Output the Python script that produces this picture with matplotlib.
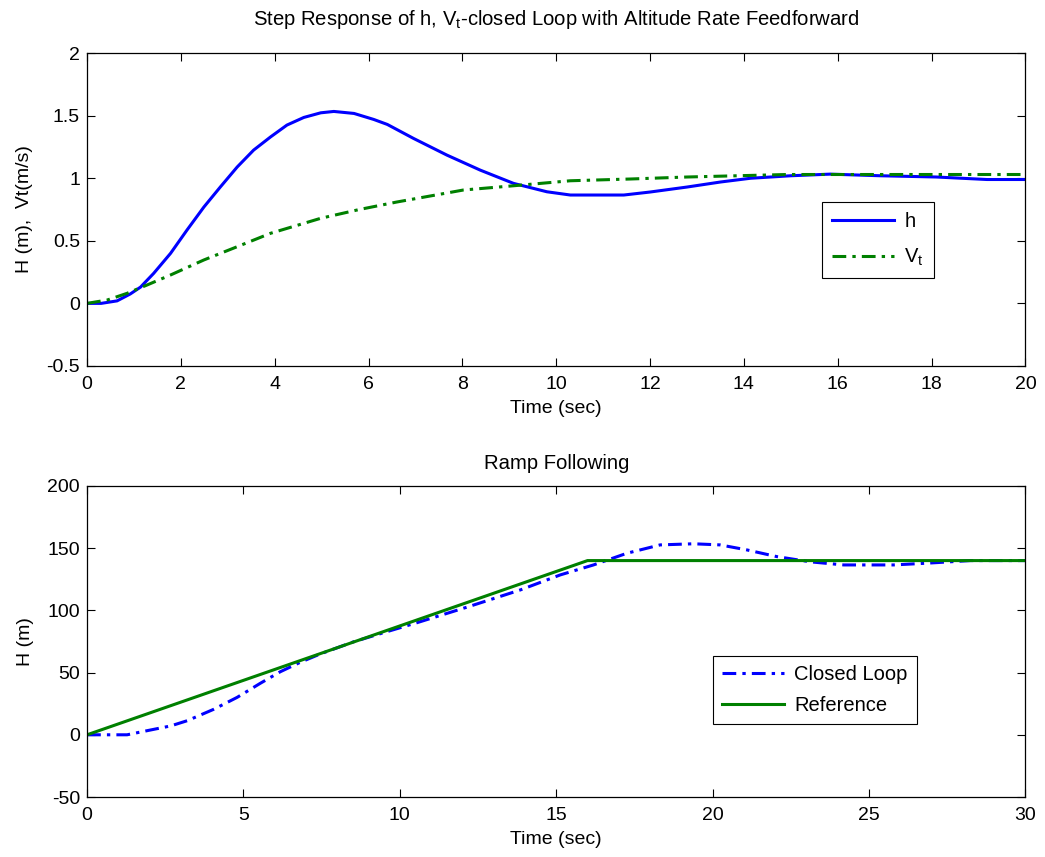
import matplotlib
matplotlib.use("Agg")
import matplotlib.pyplot as plt

# step response samples (time in sec)
t_h = [0, 0.3, 0.64, 0.92, 1.14, 1.42, 1.78, 2.13, 2.49, 2.84, 3.2, 3.55, 3.91, 4.26,
       4.62, 4.98, 5.26, 5.69, 6.11, 6.4, 6.96, 7.67, 8.38, 9.09, 9.8, 10.3, 11.44,
       12.0, 12.79, 13.5, 14.14, 15.0, 15.84, 16.9, 18.1, 19.18, 20]
h = [0, 0, 0.02, 0.075, 0.13, 0.24, 0.40, 0.586, 0.77, 0.93, 1.09, 1.225, 1.33, 1.425,
     1.486, 1.523, 1.534, 1.518, 1.47, 1.43, 1.318, 1.185, 1.065, 0.959, 0.892, 0.866, 0.866,
     0.89, 0.93, 0.97, 1.0, 1.02, 1.033, 1.02, 1.01, 0.99, 0.99]

t_vt = [0, 0.43, 0.85, 1.28, 1.78, 2.49, 3.2, 3.91, 4.98, 5.8, 6.6, 8.02, 9.09, 10.3,
        11.58, 12.79, 14.92, 20]
vt = [0, 0.027, 0.08, 0.147, 0.227, 0.347, 0.453, 0.56, 0.68, 0.75, 0.81, 0.906, 0.94, 0.98,
      0.994, 1.01, 1.03, 1.03]

# ramp following
t_cl = [0, 1.28, 1.92, 2.67, 3.2, 4.05, 4.8, 5.54, 6.18, 6.82, 7.46, 8.53, 9.59, 10.55,
        12.2, 13.85, 15.13, 16.19, 17.26, 18.32, 19.39, 20.24, 21.09, 22.05, 23.12, 24.19,
        25.78, 26.85, 28.24, 30]
h_cl = [0, 0, 3.3, 7.1, 11.3, 20.5, 30.1, 41.4, 50.7, 58.3, 65, 74.8, 82.9, 90.1,
        103, 116.4, 128.5, 136.5, 145.9, 152.6, 153.5, 152.6, 148.6, 143.2, 139, 136.5,
        136.5, 137.9, 140, 140]

t_ref = [0, 16, 30]
h_ref = [0, 140, 140]

plt.rcParams['font.family'] = ['Liberation Sans', 'DejaVu Sans']
plt.rcParams['mathtext.fontset'] = 'custom'
plt.rcParams['mathtext.rm'] = 'Liberation Sans'
plt.rcParams['font.size'] = 14
plt.rcParams['axes.unicode_minus'] = False

blue = '#0000ff'
green = '#008000'
dashdot = (0, (4.5, 2, 1.1, 2))

fig = plt.figure(figsize=(10.45, 8.57), dpi=100)
ax1 = fig.add_axes([0.0833, 0.573, 0.898, 0.365])
ax2 = fig.add_axes([0.0833, 0.070, 0.898, 0.363])

ax1.plot(t_h, h, color=blue, lw=2.2, label='h')
ax1.plot(t_vt, vt, color=green, lw=2.2, ls=dashdot, label=r'$\mathregular{V_t}$')
ax1.set_xlim(0, 20)
ax1.set_ylim(-0.5, 2)
ax1.set_xticks(range(0, 21, 2))
ax1.set_yticks([-0.5, 0, 0.5, 1, 1.5, 2])
ax1.set_yticklabels(['-0.5', '0', '0.5', '1', '1.5', '2'])
ax1.set_xlabel('Time (sec)', labelpad=5)
ax1.set_ylabel('H (m),  Vt(m/s)', labelpad=10)
ax1.set_title(r'Step Response of h, $\mathregular{V_t}$-closed Loop with Altitude Rate Feedforward',
              fontsize=14.6, pad=20)
leg1 = ax1.legend(loc='upper left', bbox_to_anchor=(0.772, 0.555), fancybox=False,
                  edgecolor='black', framealpha=1, handlelength=3.1, fontsize=14.5,
                  borderpad=0.5, labelspacing=0.75, handletextpad=0.5)
leg1.get_frame().set_linewidth(0.8)

ax2.plot(t_cl, h_cl, color=blue, lw=2.2, ls=dashdot, label='Closed Loop')
ax2.plot(t_ref, h_ref, color=green, lw=2.2, label='Reference')
ax2.set_xlim(0, 30)
ax2.set_ylim(-50, 200)
ax2.set_xticks(range(0, 31, 5))
ax2.set_yticks(range(-50, 201, 50))
ax2.set_xlabel('Time (sec)', labelpad=5)
ax2.set_ylabel('H (m)', labelpad=10)
ax2.set_title('Ramp Following', fontsize=14.6, pad=12)
leg2 = ax2.legend(loc='upper left', bbox_to_anchor=(0.656, 0.485), fancybox=False,
                  edgecolor='black', framealpha=1, handlelength=3.1, fontsize=14.5,
                  borderpad=0.45, labelspacing=0.6, handletextpad=0.5)
leg2.get_frame().set_linewidth(0.8)

for ax in (ax1, ax2):
    ax.tick_params(direction='in', top=True, right=True, length=6, width=0.8)
    ax.tick_params(axis='x', pad=7.5)
    ax.tick_params(axis='y', pad=5)
    for s in ax.spines.values():
        s.set_linewidth(0.9)

fig.savefig('out.png', dpi=100)
